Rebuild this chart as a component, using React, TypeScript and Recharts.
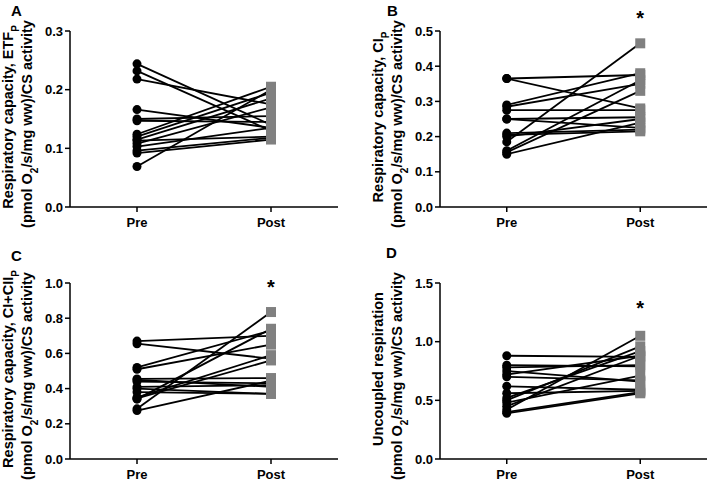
import React from 'react';
import { Line, LineChart, ReferenceDot, XAxis, YAxis } from 'recharts';

const FONT = '"Liberation Sans", Arial, sans-serif';

// panel A: ETF_P
const preA = [0.244, 0.232, 0.218, 0.166, 0.15, 0.147, 0.124, 0.12, 0.115, 0.113, 0.108, 0.103, 0.096, 0.092, 0.069];
const postA = [0.14, 0.13, 0.175, 0.135, 0.155, 0.145, 0.205, 0.195, 0.185, 0.12, 0.17, 0.135, 0.118, 0.115, 0.2];
const ticksA = [0, 0.1, 0.2, 0.3];

// panel B: CI_P
const preB = [0.365, 0.365, 0.29, 0.285, 0.275, 0.25, 0.25, 0.21, 0.205, 0.2, 0.185, 0.16, 0.155, 0.15];
const postB = [0.375, 0.28, 0.38, 0.35, 0.275, 0.255, 0.225, 0.22, 0.215, 0.25, 0.465, 0.36, 0.33, 0.24];
const ticksB = [0, 0.1, 0.2, 0.3, 0.4, 0.5];

// panel C: CI+CII_P
const preC = [0.67, 0.655, 0.52, 0.51, 0.455, 0.45, 0.44, 0.41, 0.4, 0.38, 0.35, 0.345, 0.34, 0.285, 0.275];
const postC = [0.7, 0.57, 0.73, 0.65, 0.46, 0.41, 0.43, 0.42, 0.37, 0.37, 0.59, 0.56, 0.74, 0.835, 0.445];
const ticksC = [0, 0.2, 0.4, 0.6, 0.8, 1.0];

// panel D: uncoupled
const preD = [0.88, 0.8, 0.78, 0.75, 0.72, 0.7, 0.62, 0.56, 0.52, 0.5, 0.48, 0.45, 0.42, 0.4, 0.39];
const postD = [0.87, 0.79, 0.8, 0.66, 0.88, 0.67, 0.59, 0.58, 0.92, 0.96, 0.71, 0.88, 1.05, 0.57, 0.56];
const ticksD = [0, 0.5, 1.0, 1.5];

const groups = ['Pre', 'Post'];

const toRows = (pre: number[], post: number[]) =>
  [pre, post].map((vals, x) => {
    const row: Record<string, number> = { x };
    vals.forEach((v, i) => (row[`s${i}`] = v));
    return row;
  });

const renderDot = (props: any) => {
  const { cx, cy, index, key } = props;
  if (cx == null || cy == null) return <g key={key} />;
  if (index === 0) return <circle key={key} cx={cx} cy={cy} r={4.5} fill="#000" />;
  return <rect key={key} x={cx - 5} y={cy - 5} width={10} height={10} fill="#808080" />;
};

interface PanelProps {
  letter: string;
  pre: number[];
  post: number[];
  ticks: number[];
  title: React.ReactNode;
  star?: number;
  left: number;
  top: number;
  width: number;
  height: number;
  right: number;
  letterX: number;
  letterY: number;
}

const axisText = { fill: '#000', fontSize: 13, fontWeight: 700, fontFamily: FONT };

const Panel = ({ letter, pre, post, ticks, title, star, left, top, width, height, right, letterX, letterY }: PanelProps) => {
  const rows = toRows(pre, post);
  const plotH = 176;
  const cy = 31 + plotH / 2;
  return (
    <div style={{ position: 'absolute', left, top, width, height }}>
      <LineChart width={width} height={height} data={rows} margin={{ top: 31, right, bottom: 0, left: 0 }}>
        <XAxis
          dataKey="x"
          type="number"
          domain={[-0.5, 1.5]}
          ticks={[0, 1]}
          tickFormatter={(v: number) => groups[v]}
          height={height - 31 - plotH}
          tick={axisText}
          tickSize={5}
          tickMargin={6}
          stroke="#000"
          strokeWidth={1.5}
          tickLine={{ stroke: '#000', strokeWidth: 1.5 }}
        />
        <YAxis
          type="number"
          domain={[ticks[0], ticks[ticks.length - 1]]}
          ticks={ticks}
          tickFormatter={(v: number) => v.toFixed(1)}
          width={70}
          tick={axisText}
          tickSize={5}
          tickMargin={2}
          stroke="#000"
          strokeWidth={1.5}
          tickLine={{ stroke: '#000', strokeWidth: 1.5 }}
        />
        {pre.map((_, i) => (
          <Line
            key={i}
            dataKey={`s${i}`}
            stroke="#000"
            strokeWidth={1.8}
            dot={renderDot}
            activeDot={false}
            isAnimationActive={false}
          />
        ))}
        {star != null && (
          <ReferenceDot
            x={1}
            y={star}
            r={0}
            ifOverflow="visible"
            label={{ value: '*', position: 'center', fill: '#000', fontSize: 20, fontWeight: 700, fontFamily: FONT }}
          />
        )}
      </LineChart>
      <svg width={60} height={height} style={{ position: 'absolute', left: 0, top: 0 }}>
        <text
          transform={`translate(13, ${cy - 2}) rotate(-90)`}
          textAnchor="middle"
          fontSize={14.5}
          fontWeight={700}
          fontFamily={FONT}
          fill="#000"
        >
          {title}
        </text>
        <text
          transform={`translate(32, ${cy + 5}) rotate(-90)`}
          textAnchor="middle"
          fontSize={14.5}
          fontWeight={700}
          fontFamily={FONT}
          fill="#000"
        >
          (pmol O<tspan baselineShift="sub" fontSize={10}>2</tspan>/s/mg ww)/CS activity
        </text>
      </svg>
      <div
        style={{
          position: 'absolute',
          left: letterX,
          top: letterY,
          fontFamily: FONT,
          fontWeight: 700,
          fontSize: 15,
          lineHeight: 1,
        }}
      >
        {letter}
      </div>
    </div>
  );
};

const sub = (s: string) => <tspan baselineShift="sub" fontSize={10}>{s}</tspan>;

export default function App() {
  return (
    <div style={{ position: 'absolute', left: 0, top: 0, width: 709, height: 483, overflow: 'hidden', background: '#fff' }}>
      <Panel
        letter="A"
        pre={preA}
        post={postA}
        ticks={ticksA}
        title={<>Respiratory capacity, ETF{sub('P')}</>}
        left={0}
        top={0}
        width={354}
        height={240}
        right={16}
        letterX={11}
        letterY={3}
      />
      <Panel
        letter="B"
        pre={preB}
        post={postB}
        ticks={ticksB}
        title={<>Respiratory capacity, CI{sub('P')}</>}
        star={0.537}
        left={370}
        top={0}
        width={339}
        height={240}
        right={2}
        letterX={17}
        letterY={3}
      />
      <Panel
        letter="C"
        pre={preC}
        post={postC}
        ticks={ticksC}
        title={<>Respiratory capacity, CI+CII{sub('P')}</>}
        star={0.977}
        left={0}
        top={252}
        width={354}
        height={231}
        right={16}
        letterX={11}
        letterY={-4}
      />
      <Panel
        letter="D"
        pre={preD}
        post={postD}
        ticks={ticksD}
        title={<>Uncoupled respiration</>}
        star={1.287}
        left={370}
        top={252}
        width={339}
        height={231}
        right={2}
        letterX={16}
        letterY={-7}
      />
    </div>
  );
}
